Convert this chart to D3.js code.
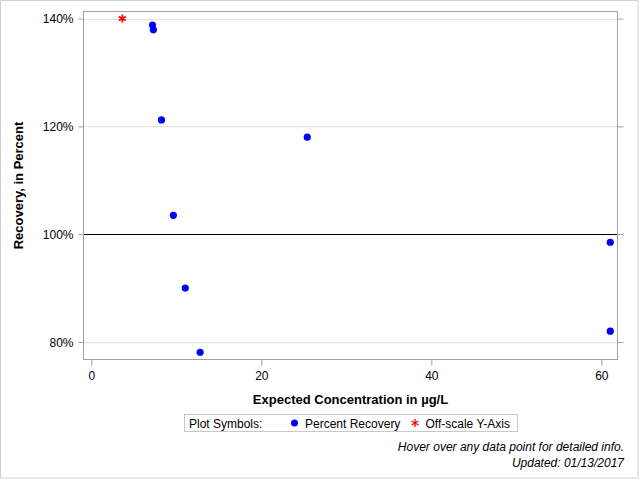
<!DOCTYPE html>
<html><head><meta charset="utf-8">
<script src="https://cdn.jsdelivr.net/npm/d3@7"></script>
<style>body{margin:0;background:#fff}svg{display:block;font-family:Arial,"Liberation Sans",sans-serif}</style>
</head><body><svg id="c" width="640" height="480"></svg>
<script>
const recoveryConc = [7.2, 7.3, 8.25, 25.4, 9.65, 11.05, 12.8, 61.05, 61.05];
const recoveryPct  = [138.8, 137.9, 121.2, 118.0, 103.5, 90.0, 78.1, 98.5, 82.0];
const offscaleConc = [3.65];
const offscalePct  = [140];
const xTicks = [0, 20, 40, 60];
const yTicks = [80, 100, 120, 140];
const legendLabels = ["Percent Recovery", "Off-scale Y-Axis"];
const footer = ["Hover over any data point for detailed info.", "Updated: 01/13/2017"];

const svg = d3.select("#c");
const L = 83, R = 618, T = 11, B = 360;
const x = d3.scaleLinear().domain([-0.98, 61.96]).range([L, R]);
const y = d3.scaleLinear().domain([76.66, 141.4]).range([B, T]);

svg.append("rect").attr("x", 0.5).attr("y", 0.5).attr("width", 637.5).attr("height", 477.5)
  .attr("fill", "none").attr("stroke", "#d0d0d0");

// grid
svg.append("g").selectAll("line").data(yTicks.filter(d => d !== 100)).join("line")
  .attr("x1", L).attr("x2", R).attr("y1", d => Math.round(y(d)) + 0.5).attr("y2", d => Math.round(y(d)) + 0.5)
  .attr("stroke", "#e2e2e2");

// reference line
svg.append("line").attr("x1", L).attr("x2", R).attr("y1", Math.round(y(100)) + 0.5).attr("y2", Math.round(y(100)) + 0.5)
  .attr("stroke", "#000");

// frame
svg.append("rect").attr("x", L + 0.5).attr("y", T + 0.5).attr("width", R - L - 1).attr("height", B - T - 1)
  .attr("fill", "none").attr("stroke", "#a0a0a0");

// axes
const fmtPct = d => d + "%";
const yAxisL = svg.append("g").attr("transform", `translate(${L + 0.5},0)`)
  .call(d3.axisLeft(y).tickValues(yTicks).tickFormat(fmtPct).tickSize(5).tickPadding(5));
const yAxisR = svg.append("g").attr("transform", `translate(${R - 0.5},0)`)
  .call(d3.axisRight(y).tickValues(yTicks).tickFormat("").tickSize(6));
const xAxis = svg.append("g").attr("transform", `translate(0,${B - 0.5})`)
  .call(d3.axisBottom(x).tickValues(xTicks).tickSize(6).tickPadding(6));
[yAxisL, yAxisR, xAxis].forEach(g => {
  g.select(".domain").remove();
  g.selectAll(".tick line").attr("stroke", "#a0a0a0");
  g.selectAll(".tick text").attr("fill", "#000").attr("font-size", 12).attr("font-family", "Arial, 'Liberation Sans', sans-serif");
});
yAxisL.selectAll(".tick text").attr("dy", "0.36em");

// axis titles
svg.append("text").attr("x", (L + R) / 2).attr("y", 404).attr("text-anchor", "middle")
  .attr("font-size", 13).attr("font-weight", "bold").text("Expected Concentration in µg/L");
svg.append("text").attr("transform", `translate(23,${(T + B) / 2}) rotate(-90)`).attr("text-anchor", "middle")
  .attr("font-size", 13).attr("font-weight", "bold").text("Recovery, in Percent");

// points
const pts = recoveryConc.map((c, i) => ({c, p: recoveryPct[i]}));
svg.append("g").selectAll("circle").data(pts).join("circle")
  .attr("cx", d => x(d.c)).attr("cy", d => y(d.p)).attr("r", 3.6).attr("fill", "#0000ff");

const star = d3.symbol().type(d3.symbolAsterisk || d3.symbolCross).size(40);
const asteriskPath = (cx, cy, s) => {
  let p = "";
  for (let k = 0; k < 3; k++) {
    const a = Math.PI / 2 + k * Math.PI / 3;
    const dx = Math.cos(a) * s, dy = Math.sin(a) * s;
    p += `M${cx - dx},${cy - dy}L${cx + dx},${cy + dy}`;
  }
  return p;
};
const off = offscaleConc.map((c, i) => ({c, p: offscalePct[i]}));
svg.append("g").selectAll("path").data(off).join("path")
  .attr("d", d => asteriskPath(x(d.c), y(d.p), 4)).attr("stroke", "#ff0000").attr("stroke-width", 1.8).attr("fill", "none");

// legend
svg.append("rect").attr("x", 184.5).attr("y", 414.5).attr("width", 333).attr("height", 17)
  .attr("fill", "#fff").attr("stroke", "#c8c8c8");
svg.append("text").attr("x", 189).attr("y", 427.5).attr("font-size", 12).text("Plot Symbols:");
svg.append("circle").attr("cx", 294.5).attr("cy", 423).attr("r", 3.5).attr("fill", "#0000ff");
svg.append("text").attr("x", 305).attr("y", 427.5).attr("font-size", 12).text(legendLabels[0]);
svg.append("path").attr("d", asteriskPath(415, 423, 4)).attr("stroke", "#ff0000").attr("stroke-width", 1.3);
svg.append("text").attr("x", 425.5).attr("y", 427.5).attr("font-size", 12).text(legendLabels[1]);

// footer
svg.selectAll("text.foot").data(footer).join("text").attr("class", "foot")
  .attr("x", 624).attr("y", (d, i) => 451 + i * 15.5).attr("text-anchor", "end")
  .attr("font-size", 12).attr("font-style", "italic").text(d => d);
</script></body></html>
